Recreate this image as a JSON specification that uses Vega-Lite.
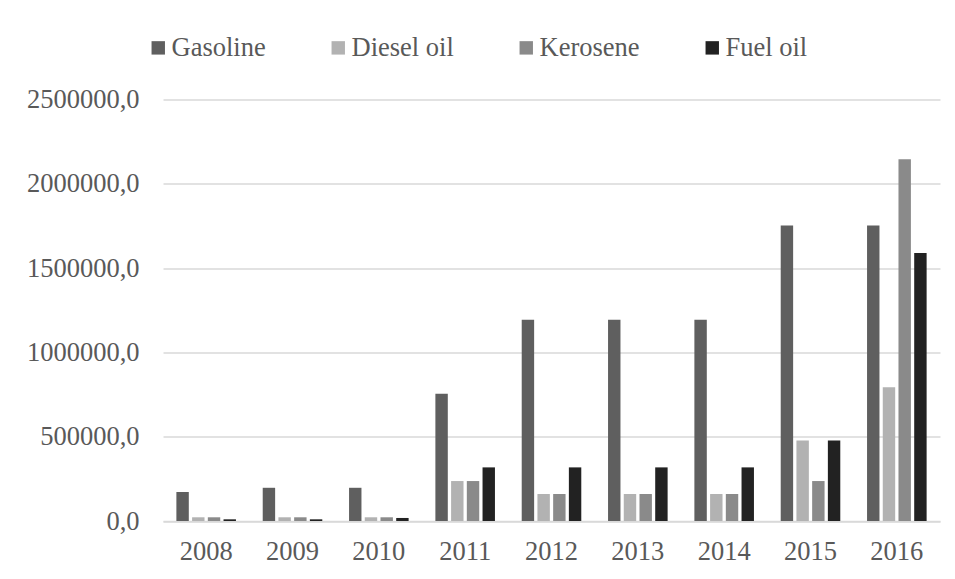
{
  "$schema": "https://vega.github.io/schema/vega-lite/v6.json",
  "autosize": {"type": "none"},
  "width": 777,
  "height": 421.5,
  "padding": {"left": 163, "top": 99.5, "right": 15, "bottom": 58},
  "background": "white",
  "data": {"values": [
    {"year": "2008", "fuel": "Gasoline", "value": 172000},
    {"year": "2008", "fuel": "Diesel oil", "value": 22000},
    {"year": "2008", "fuel": "Kerosene", "value": 22000},
    {"year": "2008", "fuel": "Fuel oil", "value": 10000},
    {"year": "2009", "fuel": "Gasoline", "value": 197000},
    {"year": "2009", "fuel": "Diesel oil", "value": 22000},
    {"year": "2009", "fuel": "Kerosene", "value": 22000},
    {"year": "2009", "fuel": "Fuel oil", "value": 10000},
    {"year": "2010", "fuel": "Gasoline", "value": 197000},
    {"year": "2010", "fuel": "Diesel oil", "value": 22000},
    {"year": "2010", "fuel": "Kerosene", "value": 22000},
    {"year": "2010", "fuel": "Fuel oil", "value": 18000},
    {"year": "2011", "fuel": "Gasoline", "value": 755000},
    {"year": "2011", "fuel": "Diesel oil", "value": 237000},
    {"year": "2011", "fuel": "Kerosene", "value": 237000},
    {"year": "2011", "fuel": "Fuel oil", "value": 318000},
    {"year": "2012", "fuel": "Gasoline", "value": 1193000},
    {"year": "2012", "fuel": "Diesel oil", "value": 160000},
    {"year": "2012", "fuel": "Kerosene", "value": 160000},
    {"year": "2012", "fuel": "Fuel oil", "value": 318000},
    {"year": "2013", "fuel": "Gasoline", "value": 1193000},
    {"year": "2013", "fuel": "Diesel oil", "value": 160000},
    {"year": "2013", "fuel": "Kerosene", "value": 160000},
    {"year": "2013", "fuel": "Fuel oil", "value": 318000},
    {"year": "2014", "fuel": "Gasoline", "value": 1193000},
    {"year": "2014", "fuel": "Diesel oil", "value": 160000},
    {"year": "2014", "fuel": "Kerosene", "value": 160000},
    {"year": "2014", "fuel": "Fuel oil", "value": 318000},
    {"year": "2015", "fuel": "Gasoline", "value": 1752000},
    {"year": "2015", "fuel": "Diesel oil", "value": 478000},
    {"year": "2015", "fuel": "Kerosene", "value": 237000},
    {"year": "2015", "fuel": "Fuel oil", "value": 478000},
    {"year": "2016", "fuel": "Gasoline", "value": 1752000},
    {"year": "2016", "fuel": "Diesel oil", "value": 794000},
    {"year": "2016", "fuel": "Kerosene", "value": 2145000},
    {"year": "2016", "fuel": "Fuel oil", "value": 1590000}
  ]},
  "mark": {"type": "bar"},
  "encoding": {
    "x": {
      "field": "year", "type": "nominal",
      "scale": {"paddingInner": 0.31, "paddingOuter": 0.155},
      "axis": {"title": null, "labelAngle": 0, "ticks": false, "domain": true, "domainColor": "#d9d9d9", "domainWidth": 1.3, "labelPadding": 17}
    },
    "xOffset": {
      "field": "fuel", "type": "nominal",
      "sort": ["Gasoline", "Diesel oil", "Kerosene", "Fuel oil"],
      "scale": {"paddingInner": 0.21, "paddingOuter": 0}
    },
    "y": {
      "field": "value", "type": "quantitative",
      "scale": {"domain": [0, 2500000], "nice": false},
      "axis": {"title": null, "values": [0, 500000, 1000000, 1500000, 2000000, 2500000],
        "labelExpr": "replace(format(datum.value, '.1f'), '.', ',')",
        "ticks": false, "domain": false, "grid": true, "gridColor": "#d9d9d9", "gridWidth": 1.3, "labelPadding": 24}
    },
    "color": {
      "field": "fuel", "type": "nominal",
      "sort": ["Gasoline", "Diesel oil", "Kerosene", "Fuel oil"],
      "scale": {"domain": ["Gasoline", "Diesel oil", "Kerosene", "Fuel oil"], "range": ["#5f5f5f", "#b2b2b2", "#8a8a8a", "#222222"]},
      "legend": {
        "title": null, "orient": "none", "direction": "horizontal",
        "legendX": -18, "legendY": -65,
        "symbolType": "square", "symbolSize": 180, "symbolStrokeWidth": 0,
        "labelOffset": 0, "columnPadding": 59, "padding": 0
      }
    }
  },
  "config": {
    "font": "Liberation Serif",
    "view": {"stroke": null},
    "axis": {"labelFont": "Liberation Serif", "labelFontSize": 26.5, "labelColor": "#595959"},
    "legend": {"labelFont": "Liberation Serif", "labelFontSize": 26.5, "labelColor": "#595959"}
  }
}
